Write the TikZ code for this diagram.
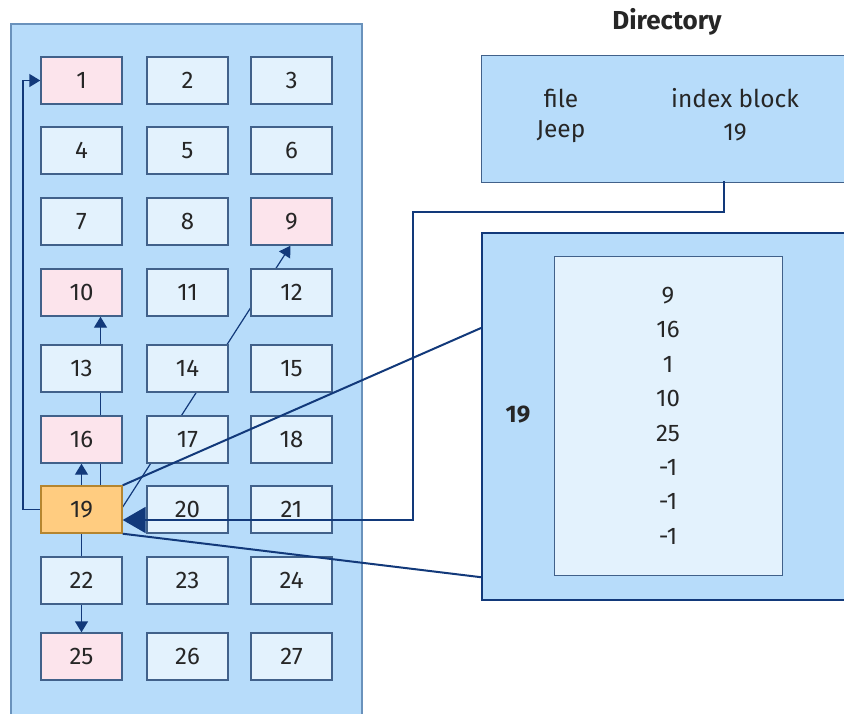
\documentclass[tikz,border=0pt]{standalone}
\usepackage{fontspec}
\setmainfont{Fira Sans}
\usetikzlibrary{arrows.meta,calc}

\definecolor{panelfill}{HTML}{B7DCFA}
\definecolor{panelline}{HTML}{6A92BC}
\definecolor{blockfill}{HTML}{E3F2FD}
\definecolor{blockline}{HTML}{41618A}
\definecolor{usedfill}{HTML}{FCE4EC}
\definecolor{indexfill}{HTML}{FFCC80}
\definecolor{indexline}{HTML}{B5852F}
\definecolor{linkcol}{HTML}{12397A}
\definecolor{txt}{HTML}{262626}

\tikzset{
  blk/.style={draw=blockline, line width=1.4pt, fill=blockfill,
    minimum width=81pt, minimum height=47pt, inner sep=0pt,
    text=txt, font=\fontsize{24}{28}\selectfont},
  usedblk/.style={blk, fill=usedfill},
  idxblk/.style={blk, fill=indexfill, draw=indexline},
  link/.style={draw=linkcol, line width=1.4pt},
  biglink/.style={draw=linkcol, line width=2pt},
  tip/.style={-{Triangle[length=11pt,width=13pt]}},
  bigtip/.style={-{Triangle[length=23pt,width=26pt]}},
  lbl/.style={text=txt, font=\fontsize{24.5}{28}\selectfont, inner sep=0pt},
}

\begin{document}
\begin{tikzpicture}[x=1pt,y=-1pt]
  \clip (0,0) rectangle (844,713);
  \fill[white] (0,0) rectangle (844,713);

  % disk panel
  \draw[draw=panelline, line width=1.2pt, fill=panelfill] (11,24) rectangle (362,716);

  % block grid coordinates
  \foreach \r/\y in {1/80.5,2/150.5,3/221.5,4/292.5,5/368.5,6/439.5,7/509.5,8/580.5,9/656.5}{
    \foreach \c/\x in {1/81.5,2/187.5,3/291.5}{
      \coordinate (p\r\c) at (\x,\y);
    }
  }

  % links drawn beneath the blocks
  \coordinate (lft) at (23,80.5);
  \path (p71) node[blk, draw=none, fill=none] (g19) {};
  \path (p11) node[blk, draw=none, fill=none] (g1) {};
  \path (p61) node[blk, draw=none, fill=none] (g16) {};
  \path (p41) node[blk, draw=none, fill=none] (g10) {};
  \path (p91) node[blk, draw=none, fill=none] (g25) {};
  \path (p33) node[blk, draw=none, fill=none] (g9) {};
  \draw[link, tip] (g19.west) -| (lft) -- (g1.west);
  \draw[link, tip] (g19.north) -- (g16.south);
  \draw[link, tip] ([xshift=19pt]g19.north) -- ([xshift=19pt]g10.south);
  \draw[link, tip] (g19.south) -- (g25.north);
  \draw[link, line width=1.2pt, tip] ([yshift=2.5pt]g19.east) -- ([xshift=-1pt]g9.south);

  % blocks
  \foreach \n/\r/\c/\s in {1/1/1/usedblk,2/1/2/blk,3/1/3/blk,
                           4/2/1/blk,5/2/2/blk,6/2/3/blk,
                           7/3/1/blk,8/3/2/blk,9/3/3/usedblk,
                           10/4/1/usedblk,11/4/2/blk,12/4/3/blk,
                           13/5/1/blk,14/5/2/blk,15/5/3/blk,
                           16/6/1/usedblk,17/6/2/blk,18/6/3/blk,
                           19/7/1/idxblk,20/7/2/blk,21/7/3/blk,
                           22/8/1/blk,23/8/2/blk,24/8/3/blk,
                           25/9/1/usedblk,26/9/2/blk,27/9/3/blk}{
    \node[\s] (b\n) at (p\r\c) {\n};
  }

  % directory
  \node[font=\fontsize{26}{30}\selectfont\bfseries, text=txt] (dirtitle) at (667,22) {Directory};
  \node[draw=blockline, line width=1.4pt, fill=panelfill, minimum width=369pt,
        minimum height=127pt, inner sep=0pt, anchor=north west] (dir) at (481,54.5) {};
  \node[lbl] (hfile) at (561,98) {file};
  \node[lbl] (hidx) at (735,98) {index block};
  \node[lbl] (vfile) at (561,132) {Jeep};
  \node[lbl] (vidx) at (735,132) {19};

  % index block
  \node[draw=linkcol, line width=2.2pt, fill=panelfill, minimum width=369pt,
        minimum height=367pt, inner sep=0pt, anchor=north west] (idx) at (481,232) {};
  \node[lbl, font=\fontsize{24}{28}\selectfont\bfseries] (idxno) at (518,415) {19};
  \node[draw=blockline, line width=1.4pt, fill=blockfill, minimum width=228pt,
        minimum height=319pt, inner sep=0pt, anchor=north west] (entries) at (554,256) {};
  \node[lbl, align=center, font=\fontsize{24}{34.4}\selectfont, anchor=north]
        (list) at (668,287) {9\\16\\1\\10\\25\\-1\\-1\\-1};

  % links drawn above the blocks
  \coordinate (dtap) at (724,181);
  \coordinate (dturn) at (413,212);
  \draw[biglink, bigtip] (dtap) |- (dturn) |- ([yshift=-10.5pt]b19.east);
  \draw[biglink] (b19.north east) -- ($(idx.north west)+(0,96)$);
  \draw[biglink] (b19.south east) -- ($(idx.south west)+(0,-24)$);
\end{tikzpicture}
\end{document}
